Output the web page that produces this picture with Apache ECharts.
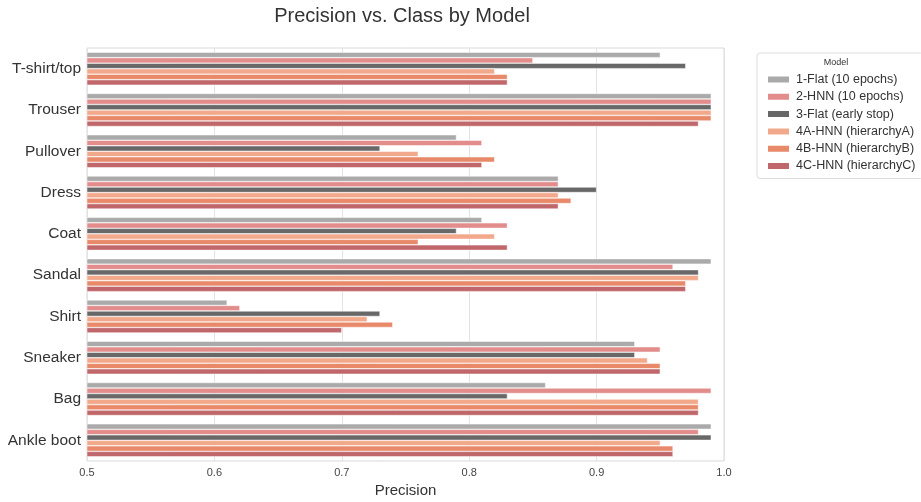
<!DOCTYPE html>
<html>
<head>
<meta charset="utf-8">
<script src="https://cdn.jsdelivr.net/npm/echarts@6/dist/echarts.min.js"></script>
<style>html,body{margin:0;padding:0;background:#fff}#c{width:921px;height:502px}</style>
</head>
<body>
<div id="c"></div>
<script>
const categories = ['T-shirt/top','Trouser','Pullover','Dress','Coat','Sandal','Shirt','Sneaker','Bag','Ankle boot'];
const modelNames = ['1-Flat (10 epochs)','2-HNN (10 epochs)','3-Flat (early stop)','4A-HNN (hierarchyA)','4B-HNN (hierarchyB)','4C-HNN (hierarchyC)'];
const flat10 = [0.95,0.99,0.79,0.87,0.81,0.99,0.61,0.93,0.86,0.99];
const hnn10 = [0.85,0.99,0.81,0.87,0.83,0.96,0.62,0.95,0.99,0.98];
const flatEarly = [0.97,0.99,0.73,0.90,0.79,0.98,0.73,0.93,0.83,0.99];
const hnnA = [0.82,0.99,0.76,0.87,0.82,0.98,0.72,0.94,0.98,0.95];
const hnnB = [0.83,0.99,0.82,0.88,0.76,0.97,0.74,0.95,0.98,0.96];
const hnnC = [0.83,0.98,0.81,0.87,0.83,0.97,0.70,0.95,0.98,0.96];
const xTicks = [0.5,0.6,0.7,0.8,0.9,1.0];

const seriesData = [flat10,hnn10,flatEarly,hnnA,hnnB,hnnC];
const colors = ['#aaaaaa','#e28c8c','#686868','#f2a98b','#e8896a','#c0676b'];

const chart = echarts.init(document.getElementById('c'), null, {renderer:'canvas'});
const font = 'Liberation Sans, Arial, sans-serif';
chart.setOption({
  animation:false,
  backgroundColor:'#ffffff',
  title:[
    {text:'Precision vs. Class by Model',left:402,top:6,textAlign:'center',padding:0,
     textStyle:{fontFamily:font,fontSize:20,fontWeight:'normal',color:'#333'}},
    {text:'Model',left:836,top:58,textAlign:'center',padding:0,
     textStyle:{fontFamily:font,fontSize:9,fontWeight:'normal',color:'#333'}}
  ],
  legend:{
    orient:'vertical',left:757,top:53,width:150,
    padding:[20,8,6,9],
    itemGap:4.3,itemWidth:23,itemHeight:8,
    backgroundColor:'#fff',borderColor:'#dddddd',borderWidth:1,borderRadius:3,
    textStyle:{fontFamily:font,fontSize:12.5,color:'#333',padding:[0,0,0,1]},
    data:modelNames.map(n=>({name:n,icon:'rect'}))
  },
  grid:{left:87,right:197,top:48,bottom:41,containLabel:false,outerBoundsMode:'none',show:true,borderColor:'#d9d9d9',borderWidth:1},
  xAxis:{
    type:'value',min:0.5,max:1.0,interval:0.1,
    name:'Precision',nameLocation:'middle',nameGap:21,
    nameTextStyle:{fontFamily:font,fontSize:15,color:'#333'},
    axisLine:{show:false},axisTick:{show:false},
    axisLabel:{fontFamily:font,fontSize:11,color:'#444',margin:6,
      formatter:v=>{const t=xTicks.find(x=>Math.abs(x-v)<1e-6);return (t!==undefined?t:v).toFixed(1);}},
    splitLine:{show:true,lineStyle:{color:'#e3e3e3',width:1}}
  },
  yAxis:{
    type:'category',data:categories,inverse:true,
    axisLine:{show:false},axisTick:{show:false},
    axisLabel:{fontFamily:font,fontSize:15.5,color:'#333',margin:6,padding:[3,0,0,0]},
    splitLine:{show:false}
  },
  series:seriesData.map((d,i)=>({
    name:modelNames[i],type:'bar',data:d,
    barCategoryGap:'20%',barGap:'0%',
    itemStyle:{color:colors[i],borderColor:'#ffffff',borderWidth:0.5,opacity:1},
    emphasis:{disabled:true}
  }))
});
</script>
</body>
</html>
